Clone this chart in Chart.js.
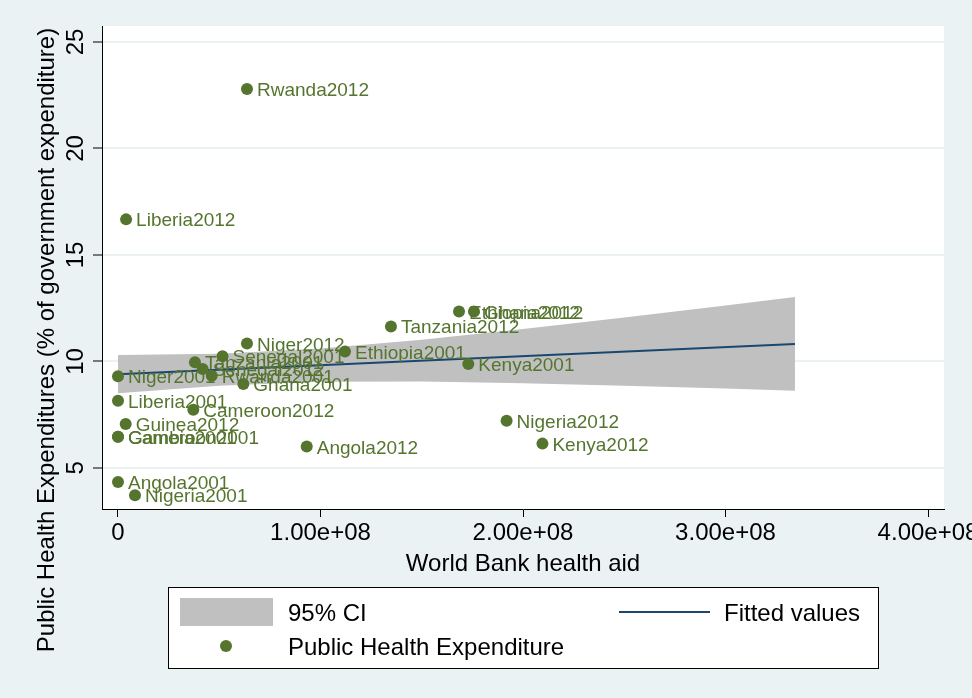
<!DOCTYPE html>
<html><head><meta charset="utf-8">
<script src="https://cdn.jsdelivr.net/npm/chart.js@4.4.1/dist/chart.umd.min.js"></script>
<style>html,body{margin:0;padding:0;background:#eaf2f3;}canvas{display:block}</style>
</head><body>
<canvas id="c" width="972" height="698"></canvas>
<script>
// ---- data ----
const pointLabels = ['Rwanda2012','Liberia2012','Ethiopia2012','Ghana2012','Tanzania2012','Niger2012',
  'Ethiopia2001','Senegal2001','Kenya2001','Tanzania2001','Senegal2012','Rwanda2001','Ghana2001',
  'Niger2001','Liberia2001','Cameroon2012','Guinea2012','Gambia2001','Cameroon2001','Angola2012',
  'Nigeria2012','Kenya2012','Angola2001','Nigeria2001'];
const aidValues = [63700000,4000000,168400000,175800000,134800000,63700000,
  112100000,51600000,173000000,38000000,41800000,46300000,61900000,
  0,0,37200000,3800000,0,0,93200000,
  191900000,209600000,0,8400000];
const healthExp = [22.79,16.67,12.34,12.34,11.64,10.84,
  10.46,10.24,9.88,9.96,9.64,9.33,8.94,
  9.30,8.15,7.73,7.06,6.46,6.46,6.00,
  7.21,6.14,4.34,3.72];
const ciAid   = [0,50000000,100000000,150000000,200000000,250000000,300000000,334300000];
const ciLower = [8.50,8.86,9.05,9.06,8.98,8.86,8.73,8.62];
const ciUpper = [10.30,10.36,10.61,11.02,11.52,12.06,12.63,13.02];
const fitAid = [0,334300000];
const fitValues = [9.40,10.82];
const xTickValues = [0,100000000,200000000,300000000,400000000];
const yTickValues = [5,10,15,20,25];
const legendLabels = ['95% CI','Fitted values','Public Health Expenditure'];
const xTitle = 'World Bank health aid';
const yTitle = 'Public Health Expenditures (% of government expenditure)';

// ---- styling ----
const FONT = '"Liberation Sans", Arial, Helvetica, sans-serif';
const GREEN = '#55752f', NAVY = '#1a476f', GRAY = '#c0c0c0', BG = '#eaf2f3';

function fmt(v){
  if (v === 0) return '0';
  const parts = v.toExponential(2).split('e');
  const e = parts[1];
  return parts[0] + 'e' + e[0] + e.slice(1).padStart(2,'0');
}

const decor = {
  id: 'decor',
  beforeDraw(chart){
    const ctx = chart.ctx, a = chart.chartArea;
    ctx.save();
    ctx.fillStyle = BG; ctx.fillRect(0,0,chart.width,chart.height);
    ctx.fillStyle = '#fff'; ctx.fillRect(a.left,a.top,a.right-a.left,a.bottom-a.top);
    ctx.restore();
  },
  afterDatasetsDraw(chart){
    const ctx = chart.ctx;
    const meta = chart.getDatasetMeta(0);
    ctx.save();
    ctx.fillStyle = GREEN;
    ctx.font = '19px ' + FONT;
    ctx.textAlign = 'left'; ctx.textBaseline = 'alphabetic';
    meta.data.forEach((el,i) => ctx.fillText(pointLabels[i], el.x + 10, el.y + 7));
    ctx.restore();
  },
  afterDraw(chart){
    const ctx = chart.ctx, xs = chart.scales.x, ys = chart.scales.y, a = chart.chartArea;
    ctx.save();
    ctx.fillStyle = '#000';
    ctx.font = '24px ' + FONT;
    ctx.textAlign = 'center'; ctx.textBaseline = 'alphabetic';
    xTickValues.forEach(v => ctx.fillText(fmt(v), xs.getPixelForValue(v), a.bottom + 31));
    ctx.fillText(xTitle, (a.left + a.right)/2, a.bottom + 62);
    yTickValues.forEach(v => {
      ctx.save(); ctx.translate(a.left - 19, ys.getPixelForValue(v)); ctx.rotate(-Math.PI/2);
      ctx.fillText(String(v), 0, 0); ctx.restore();
    });
    ctx.save(); ctx.translate(54, 340); ctx.rotate(-Math.PI/2); ctx.fillText(yTitle, 0, 0); ctx.restore();

    // legend
    ctx.fillStyle = '#fff'; ctx.fillRect(168, 587, 710, 81);
    ctx.strokeStyle = '#000'; ctx.lineWidth = 1; ctx.strokeRect(168.5, 587.5, 710, 81);
    ctx.fillStyle = GRAY; ctx.fillRect(180, 598, 93, 28);
    ctx.strokeStyle = NAVY; ctx.lineWidth = 2;
    ctx.beginPath(); ctx.moveTo(619, 612); ctx.lineTo(710, 612); ctx.stroke();
    ctx.fillStyle = GREEN; ctx.beginPath(); ctx.arc(226, 646, 6, 0, Math.PI*2); ctx.fill();
    ctx.fillStyle = '#000'; ctx.textAlign = 'left';
    ctx.fillText(legendLabels[0], 288, 621);
    ctx.fillText(legendLabels[1], 724, 621);
    ctx.fillText(legendLabels[2], 288, 655);
    ctx.restore();
  }
};

new Chart(document.getElementById('c'), {
  type: 'scatter',
  data: {
    datasets: [
      { label: legendLabels[2], data: aidValues.map((x,i)=>({x:x, y:healthExp[i]})),
        backgroundColor: GREEN, borderWidth: 0, pointRadius: 6 },
      { label: legendLabels[1], data: fitAid.map((x,i)=>({x:x, y:fitValues[i]})),
        showLine: true, borderColor: NAVY, borderWidth: 2, pointRadius: 0, fill: false },
      { label: legendLabels[0], data: ciAid.map((x,i)=>({x:x, y:ciUpper[i]})),
        showLine: true, borderWidth: 0, borderColor: 'rgba(0,0,0,0)', pointRadius: 0,
        backgroundColor: GRAY, fill: '+1' },
      { label: 'ci-low', data: ciAid.map((x,i)=>({x:x, y:ciLower[i]})),
        showLine: true, borderWidth: 0, borderColor: 'rgba(0,0,0,0)', pointRadius: 0, fill: false }
    ]
  },
  options: {
    responsive: false, animation: false, devicePixelRatio: 1,
    layout: { padding: { left: 0, right: 28, top: 26, bottom: 0 } },
    plugins: { legend: { display: false }, tooltip: { enabled: false } },
    scales: {
      x: {
        type: 'linear', min: -7900000, max: 407900000,
        afterBuildTicks: s => { s.ticks = xTickValues.map(v => ({value: v})); },
        afterFit: s => { s.height = 189; },
        ticks: { display: false },
        grid: { drawOnChartArea: false, drawTicks: true, tickLength: 8, tickColor: '#000', tickWidth: 1 },
        border: { display: true, color: '#000', width: 1 }
      },
      y: {
        type: 'linear', min: 3.07, max: 25.75,
        afterBuildTicks: s => { s.ticks = yTickValues.map(v => ({value: v})); },
        afterFit: s => { s.width = 102; },
        ticks: { display: false },
        grid: { color: BG, lineWidth: 2, drawTicks: true, tickLength: 9, tickColor: '#000', tickWidth: 1 },
        border: { display: true, color: '#000', width: 1 }
      }
    }
  },
  plugins: [decor]
});
</script>
</body></html>
